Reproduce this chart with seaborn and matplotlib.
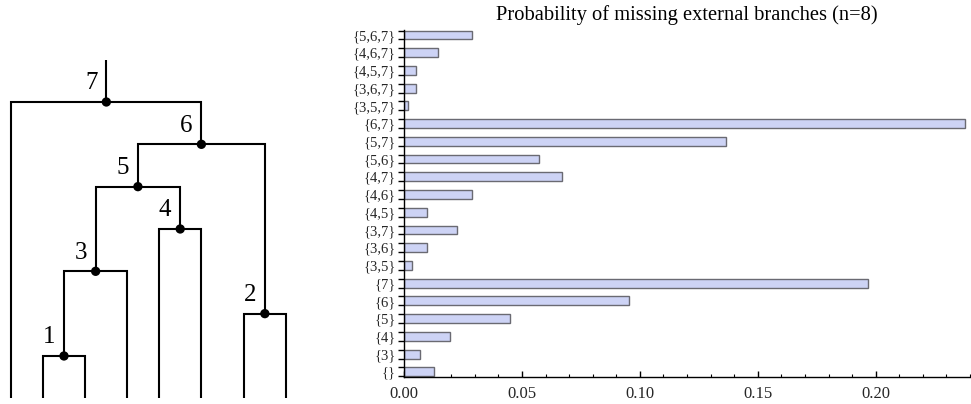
"""
Tree with numbered internal nodes next to a bar chart of
probabilities of missing external branches (n=8).
"""

import matplotlib
matplotlib.use('Agg')
import matplotlib.pyplot as plt
from matplotlib.ticker import MultipleLocator, FixedLocator, FormatStrFormatter
import seaborn as sns
import numpy as np
import pandas as pd

# --- bar chart data (top to bottom) ---
branch_sets = ['{5,6,7}', '{4,6,7}', '{4,5,7}', '{3,6,7}', '{3,5,7}',
               '{6,7}', '{5,7}', '{5,6}', '{4,7}', '{4,6}', '{4,5}',
               '{3,7}', '{3,6}', '{3,5}',
               '{7}', '{6}', '{5}', '{4}', '{3}', '{}']
probabilities = [0.0288, 0.0146, 0.0049, 0.0049, 0.0018,
                 0.2380, 0.1367, 0.0573, 0.0668, 0.0288, 0.0097,
                 0.0225, 0.0097, 0.0034,
                 0.1969, 0.0955, 0.0448, 0.0194, 0.0066, 0.0128]
x_major = [0.00, 0.05, 0.10, 0.15, 0.20]

# --- tree data (units of one level height) ---
leaf_x = [0.0, 0.74, 1.75, 2.74, 3.49, 4.49, 5.49, 6.49]
# merges: (label, left child, right child, height); children 'L#' = leaf, 'N#' = node
merges = [
    ('1', 'L1', 'L2', 1),
    ('2', 'L6', 'L7', 2),
    ('3', 'N1', 'L3', 3),
    ('4', 'L4', 'L5', 4),
    ('5', 'N3', 'N4', 5),
    ('6', 'N5', 'N2', 6),
    ('7', 'L0', 'N6', 7),
]
root_top = 8.0

sns.set_style('ticks')
plt.rcParams['font.family'] = ['Liberation Serif', 'DejaVu Serif']
plt.rcParams['text.color'] = 'black'

fig = plt.figure(figsize=(9.71, 4.04), dpi=100)

# ---------------- tree ----------------
unit = 42.33  # px per level
tree_w = 330
ax_t = fig.add_axes([0, 0, tree_w / 971, 1])
ax_t.set_xlim(-11.3 / unit, (tree_w - 11.3) / unit)
ax_t.set_ylim(-5.7 / unit, (404 - 5.7) / unit)
ax_t.axis('off')

pos = {f'L{i}': (x, 0.0) for i, x in enumerate(leaf_x)}
lw = 1.5
nodes = []
for label, a, b, h in merges:
    xa, ya = pos[a]
    xb, yb = pos[b]
    xm = (xa + xb) / 2
    ax_t.plot([xa, xa, xb, xb], [ya, h, h, yb], color='black', lw=lw,
              solid_joinstyle='miter', solid_capstyle='butt')
    pos[f'N{label}'] = (xm, h)
    nodes.append((label, xm, h))

rx, ry = pos['N7']
ax_t.plot([rx, rx], [ry, root_top], color='black', lw=lw, solid_capstyle='butt')

node_df = pd.DataFrame(nodes, columns=['label', 'x', 'y'])
sns.scatterplot(data=node_df, x='x', y='y', ax=ax_t, color='black', s=45,
                edgecolor='none', zorder=5)
for _, r in node_df.iterrows():
    ax_t.text(r['x'] - 15 / unit, r['y'] + 18.5 / unit, r['label'],
              fontsize=18, ha='center', va='center')
ax_t.set_xlabel('')
ax_t.set_ylabel('')

# ---------------- bar chart ----------------
ax = fig.add_axes([404 / 971, 26.7 / 404, 566 / 971, 347.3 / 404])
df = pd.DataFrame({'set': branch_sets, 'p': probabilities})
sns.barplot(data=df, x='p', y='set', orient='h', ax=ax, color='#cdd3f5',
            saturation=1, width=0.5, edgecolor='#6a6a72', linewidth=1.0)

ax.set_xlim(0, 0.24)
ax.set_ylim(len(branch_sets) - 1 + 0.31, -0.28)
ax.set_xlabel('')
ax.set_ylabel('')

ax.xaxis.set_major_locator(FixedLocator(x_major))
ax.xaxis.set_minor_locator(MultipleLocator(0.01))
ax.xaxis.set_major_formatter(FormatStrFormatter('%.2f'))
ax.tick_params(axis='x', which='major', direction='in', length=4.5, width=1,
               labelsize=12, pad=6.5, color='black')
ax.tick_params(axis='x', which='minor', direction='in', length=2.5, width=0.8,
               color='black')

# y: labels at the centres, short outward marks at bar edges
centers = np.arange(len(branch_sets))
ax.yaxis.set_minor_locator(FixedLocator(centers))
ax.yaxis.set_minor_formatter(plt.FixedFormatter(branch_sets))
edges = np.concatenate([centers - 0.25, centers + 0.25])
ax.yaxis.set_major_locator(FixedLocator(edges))
ax.yaxis.set_major_formatter(plt.NullFormatter())
ax.tick_params(axis='y', which='major', direction='out', length=4, width=1,
               color='black')
ax.tick_params(axis='y', which='minor', length=0, labelsize=10.5, pad=6)

sns.despine(ax=ax)
for s in ('left', 'bottom'):
    ax.spines[s].set_linewidth(1.0)
    ax.spines[s].set_color('black')

ax.set_title('Probability of missing external branches (n=8)', fontsize=14.8,
             pad=7.2)

fig.savefig('out.png', dpi=100)
plt.close(fig)
